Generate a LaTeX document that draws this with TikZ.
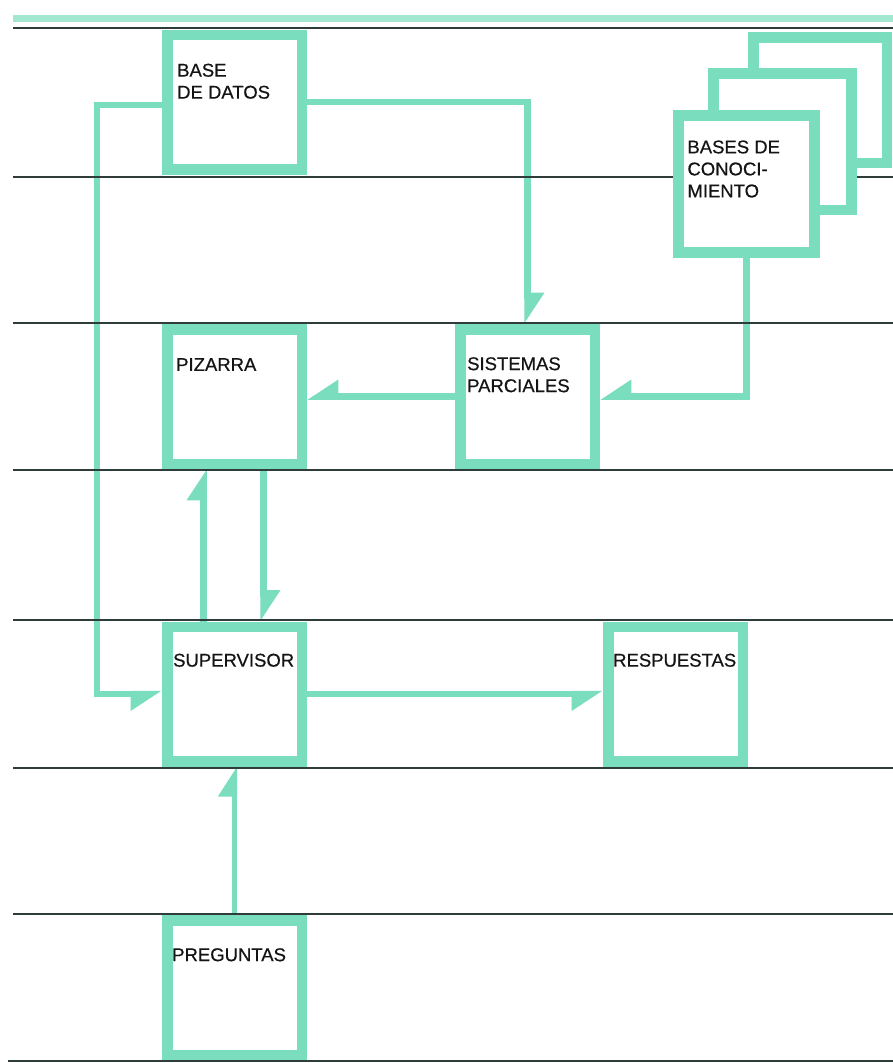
\documentclass[tikz,border=0pt]{standalone}
\usepackage{fontspec}
\setmainfont{Liberation Sans}
\newfontfamily\lblfont{Liberation Sans}[FakeBold=0.5]
\usetikzlibrary{arrows.meta}
\definecolor{mint}{HTML}{7ADDBE}
\definecolor{mintlight}{HTML}{A2E7CF}
\definecolor{rulecol}{HTML}{2E3D39}
\pgfdeclarelayer{bg}
\pgfdeclarelayer{conn}
\pgfdeclarelayer{rules}
\pgfsetlayers{bg,conn,rules,main}
\begin{document}
\begin{tikzpicture}[x=1pt,y=-1pt,
  box/.style={draw=mint, line width=10.5pt, fill=white, minimum width=134.5pt, minimum height=134.5pt, inner sep=0pt},
  lbl/.style={font=\lblfont\fontsize{18.5}{22}\selectfont, align=left, inner sep=0pt, anchor=north west, text=black!92},
  conn/.style={draw=mint, line width=6.5pt},
  tipL/.style={-{Triangle[left, length=26pt, width=32pt]}},
  tipR/.style={-{Triangle[right, length=26pt, width=32pt]}},
  rulel/.style={draw=rulecol, line width=2pt}]
\begin{pgfonlayer}{bg}
\fill[white] (0,0) rectangle (893,1063);
\end{pgfonlayer}
\useasboundingbox (0,0) rectangle (893,1063);
% boxes
\node[box] (base) at (234.5,102) {};
\node[box] (piz) at (234.5,396.5) {};
\node[box] (sis) at (527.5,396.5) {};
\node[box] (sup) at (234.5,694) {};
\node[box] (resp) at (675.5,694) {};
\node[box] (preg) at (234.5,987.5) {};
\node[box, minimum width=133.5pt, minimum height=125.5pt] (kb3) at (820,100) {};
\node[box, minimum width=138pt, minimum height=136.5pt] (kb2) at (782.5,141.5) {};
\node[box, minimum width=136pt, minimum height=137pt] (kb1) at (746.5,184) {};
% labels
\node[lbl] (tbase) at ([shift={(15pt,-34pt)}]base.north west) {BASE\\DE DATOS};
\node[lbl] (tpiz) at ([shift={(14pt,-34pt)}]piz.north west) {PIZARRA};
\node[lbl] (tsis) at ([shift={(12pt,-33pt)}]sis.north west) {SISTEMAS\\PARCIALES};
\node[lbl] (tsup) at ([shift={(11pt,-32pt)}]sup.north west) {SUPERVISOR};
\node[lbl] (tresp) at ([shift={(10pt,-32pt)}]resp.north west) {RESPUESTAS};
\node[lbl] (tpreg) at ([shift={(10pt,-33pt)}]preg.north west) {PREGUNTAS};
\node[lbl] (tkb) at ([shift={(14pt,-30pt)}]kb1.north west) {BASES DE\\CONOCI-\\MIENTO};
% horizontal rules
\begin{pgfonlayer}{rules}
\draw[mintlight, line width=7pt] (13,18.5) -- (893,18.5);
\foreach \yy in {28,177,323,470,620,768,914} {\draw[rulel] (13,\yy) -- (893,\yy);}
\draw[rulel] (8,1061) -- (893,1061);
\end{pgfonlayer}
% connectors
\begin{pgfonlayer}{conn}
\draw[conn, tipL] (base.east) -| (sis.north);
\draw[conn, tipR] (kb1.south) |- (sis.east);
\draw[conn, tipR] (sis.west) -- (piz.east);
\draw[conn, tipL] ([xshift=-31pt]sup.north) -- ([xshift=-31pt]piz.south);
\draw[conn, tipL] ([xshift=29pt]piz.south) -- ([xshift=29pt]sup.north);
\draw[conn, tipR] ([yshift=-3pt]base.west) -- ++(-65,0) |- (sup.west);
\draw[conn, tipR] (sup.east) -- (resp.west);
\draw[conn, line width=5pt, tipL] (preg.north) -- (sup.south);
\end{pgfonlayer}
\end{tikzpicture}
\end{document}
